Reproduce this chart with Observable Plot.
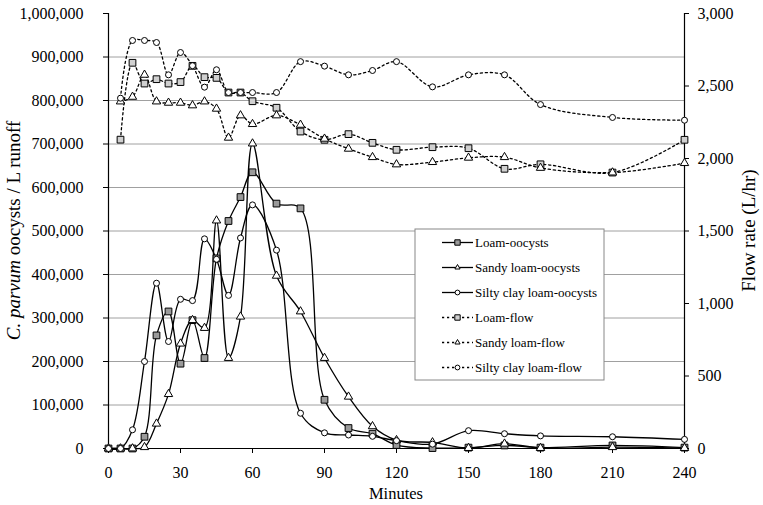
<!DOCTYPE html>
<html>
<head>
<meta charset="utf-8">
<script src="https://cdn.jsdelivr.net/npm/d3@7"></script>
<script src="https://cdn.jsdelivr.net/npm/@observablehq/plot@0.6"></script>
<style>
  html, body { margin: 0; padding: 0; background: #fff; }
  #chart svg { display: block; }
  #chart svg text { font-family: "Liberation Serif", "Times New Roman", serif; }
</style>
</head>
<body>
<div id="chart"></div>
<script>
// ---- data ----
const oocystTimes = [0,5,10,15,20,25,30,35,40,45,50,55,60,70,80,90,100,110,120,135,150,165,180,210,240];
const loamOocysts = [0,0,0,27000,260000,315000,195000,295000,208000,437000,523000,578000,635000,563000,552000,112000,47000,34000,8000,1000,2000,7000,2000,7000,2000];
const sandyLoamOocysts = [0,0,0,3000,57000,125000,241000,295000,277000,524000,208000,303000,701000,397000,315000,208000,119000,51000,19000,14000,1000,11000,1000,3000,1000];
const siltyClayLoamOocysts = [0,0,43000,200000,380000,246000,343000,340000,482000,435000,352000,484000,560000,456000,81000,36000,31000,28000,18000,10000,41000,34000,29000,27000,21000];

const flowTimes = [5,10,15,20,25,30,35,40,45,50,55,60,70,80,90,100,110,120,135,150,165,180,210,240];
const loamFlow = [2130,2660,2517,2547,2517,2527,2639,2561,2556,2455,2455,2395,2350,2186,2129,2168,2108,2060,2078,2071,1929,1960,1903,2129];
const sandyLoamFlow = [2393,2425,2577,2393,2384,2384,2366,2393,2343,2143,2297,2237,2297,2232,2136,2067,2009,1959,1975,2005,2009,1935,1903,1968];
const siltyClayLoamFlow = [2416,2814,2814,2800,2577,2731,2640,2492,2612,2455,2455,2455,2455,2668,2637,2577,2607,2668,2494,2577,2577,2372,2283,2264];

const xTicks = [0,30,60,90,120,150,180,210,240];
const leftTicks = [0,100000,200000,300000,400000,500000,600000,700000,800000,900000,1000000];
const rightTicks = [0,500,1000,1500,2000,2500,3000];
const OOCYST_MAX = 1000000, FLOW_MAX = 3000;
const k = OOCYST_MAX / FLOW_MAX;

const seriesNames = ["Loam-oocysts","Sandy loam-oocysts","Silty clay loam-oocysts","Loam-flow","Sandy loam-flow","Silty clay loam-flow"];

// ---- tables ----
const oocystSeries = [
  {name: seriesNames[0], values: loamOocysts, symbol: "square", r: 3.8, fill: "#9a9a9a"},
  {name: seriesNames[1], values: sandyLoamOocysts, symbol: "triangle", r: 3.1, fill: "white"},
  {name: seriesNames[2], values: siltyClayLoamOocysts, symbol: "circle", r: 3, fill: "white"}
].map(s => ({...s, rows: oocystTimes.map((t, i) => ({t, v: s.values[i]}))}));
const flowSeries = [
  {name: seriesNames[3], values: loamFlow, symbol: "square", r: 3.8, fill: "#d0d0d0"},
  {name: seriesNames[4], values: sandyLoamFlow, symbol: "triangle", r: 3.1, fill: "white"},
  {name: seriesNames[5], values: siltyClayLoamFlow, symbol: "circle", r: 3, fill: "white"}
].map(s => ({...s, rows: flowTimes.map((t, i) => ({t, v: s.values[i] * k}))}));

const FONT = "Liberation Serif, Times New Roman, serif";
const marks = [
  Plot.ruleY(leftTicks.filter(d => d > 0 && d < OOCYST_MAX), {stroke: "#a0a0a0", strokeWidth: 1}),
  Plot.axisY({ticks: leftTicks, tickFormat: d3.format(","), tickSize: 5, tickPadding: 20, label: null, fontSize: 16, fontFamily: FONT}),
  Plot.axisY({anchor: "right", ticks: rightTicks.map(d => d * k), tickFormat: d => d3.format(",")(Math.round(d / k)), tickSize: 4, tickPadding: 9, label: null, fontSize: 16, fontFamily: FONT}),
  Plot.axisX({ticks: xTicks, tickSize: 5, tickPadding: 13, label: null, fontSize: 16, fontFamily: FONT}),
  Plot.ruleX([0], {stroke: "black", strokeWidth: 1.2}),
  Plot.ruleX([240], {stroke: "black", strokeWidth: 1.2}),
  Plot.ruleY([0], {stroke: "black", strokeWidth: 1.2})
];
for (const s of flowSeries) {
  marks.push(Plot.line(s.rows, {x: "t", y: "v", curve: "catmull-rom", stroke: "black", strokeWidth: 1.3, strokeDasharray: "2.2,2.8"}));
}
for (const s of oocystSeries) {
  marks.push(Plot.line(s.rows, {x: "t", y: "v", curve: "catmull-rom", stroke: "black", strokeWidth: 1.3}));
}
for (const s of [...flowSeries, ...oocystSeries]) {
  marks.push(Plot.dot(s.rows, {x: "t", y: "v", symbol: s.symbol, r: s.r, fill: s.fill, stroke: "black", strokeWidth: 1}));
}

const plot = Plot.plot({
  width: 763, height: 505,
  marginLeft: 108, marginRight: 79, marginTop: 13, marginBottom: 57,
  style: {fontFamily: FONT, fontSize: "16px", color: "black", background: "white"},
  x: {domain: [0, 240]},
  y: {domain: [0, OOCYST_MAX]},
  marks
});
document.getElementById("chart").appendChild(plot);

// ---- titles & legend ----
const svg = d3.select(plot);
const xs = plot.scale("x"), ys = plot.scale("y");
const midY = (ys.apply(0) + ys.apply(OOCYST_MAX)) / 2;
const midX = (xs.apply(0) + xs.apply(240)) / 2;

svg.append("text").attr("x", midX).attr("y", 499).attr("text-anchor", "middle")
  .attr("font-family", FONT).attr("font-size", 16.5).attr("fill", "black").text("Minutes");

const lt = svg.append("text").attr("transform", `translate(20,${midY}) rotate(-90)`).attr("text-anchor", "middle")
  .attr("font-family", FONT).attr("font-size", 19).attr("fill", "black");
lt.append("tspan").attr("font-style", "italic").text("C. parvum");
lt.append("tspan").text(" oocysts / L runoff");

svg.append("text").attr("transform", `translate(755,${midY}) rotate(-90)`).attr("text-anchor", "middle")
  .attr("font-family", FONT).attr("font-size", 19).attr("fill", "black").text("Flow rate (L/hr)");

const lg = svg.append("g").attr("transform", "translate(415,229)");
lg.append("rect").attr("width", 189).attr("height", 151).attr("fill", "white").attr("stroke", "#888").attr("stroke-width", 1);
const legendItems = [...oocystSeries.map(s => ({...s, dash: null})), ...flowSeries.map(s => ({...s, dash: "2.2,2.8"}))];
const symMap = {square: d3.symbolSquare, triangle: d3.symbolTriangle2, circle: d3.symbolCircle};
legendItems.forEach((s, i) => {
  const y = 13.5 + i * 25;
  const g = lg.append("g").attr("transform", `translate(0,${y})`);
  g.append("line").attr("x1", 27).attr("x2", 58).attr("y1", 0).attr("y2", 0)
    .attr("stroke", "black").attr("stroke-width", 1.3).attr("stroke-dasharray", s.dash);
  g.append("path").attr("transform", "translate(42.5,0)")
    .attr("d", d3.symbol(symMap[s.symbol], Math.PI * (s.r * 0.8) ** 2)())
    .attr("fill", s.fill).attr("stroke", "black").attr("stroke-width", 1);
  g.append("text").attr("x", 60).attr("y", 0).attr("dy", "0.35em").attr("text-anchor", "start")
    .attr("font-family", FONT).attr("font-size", 13).attr("fill", "black").text(s.name);
});
</script>
</body>
</html>
